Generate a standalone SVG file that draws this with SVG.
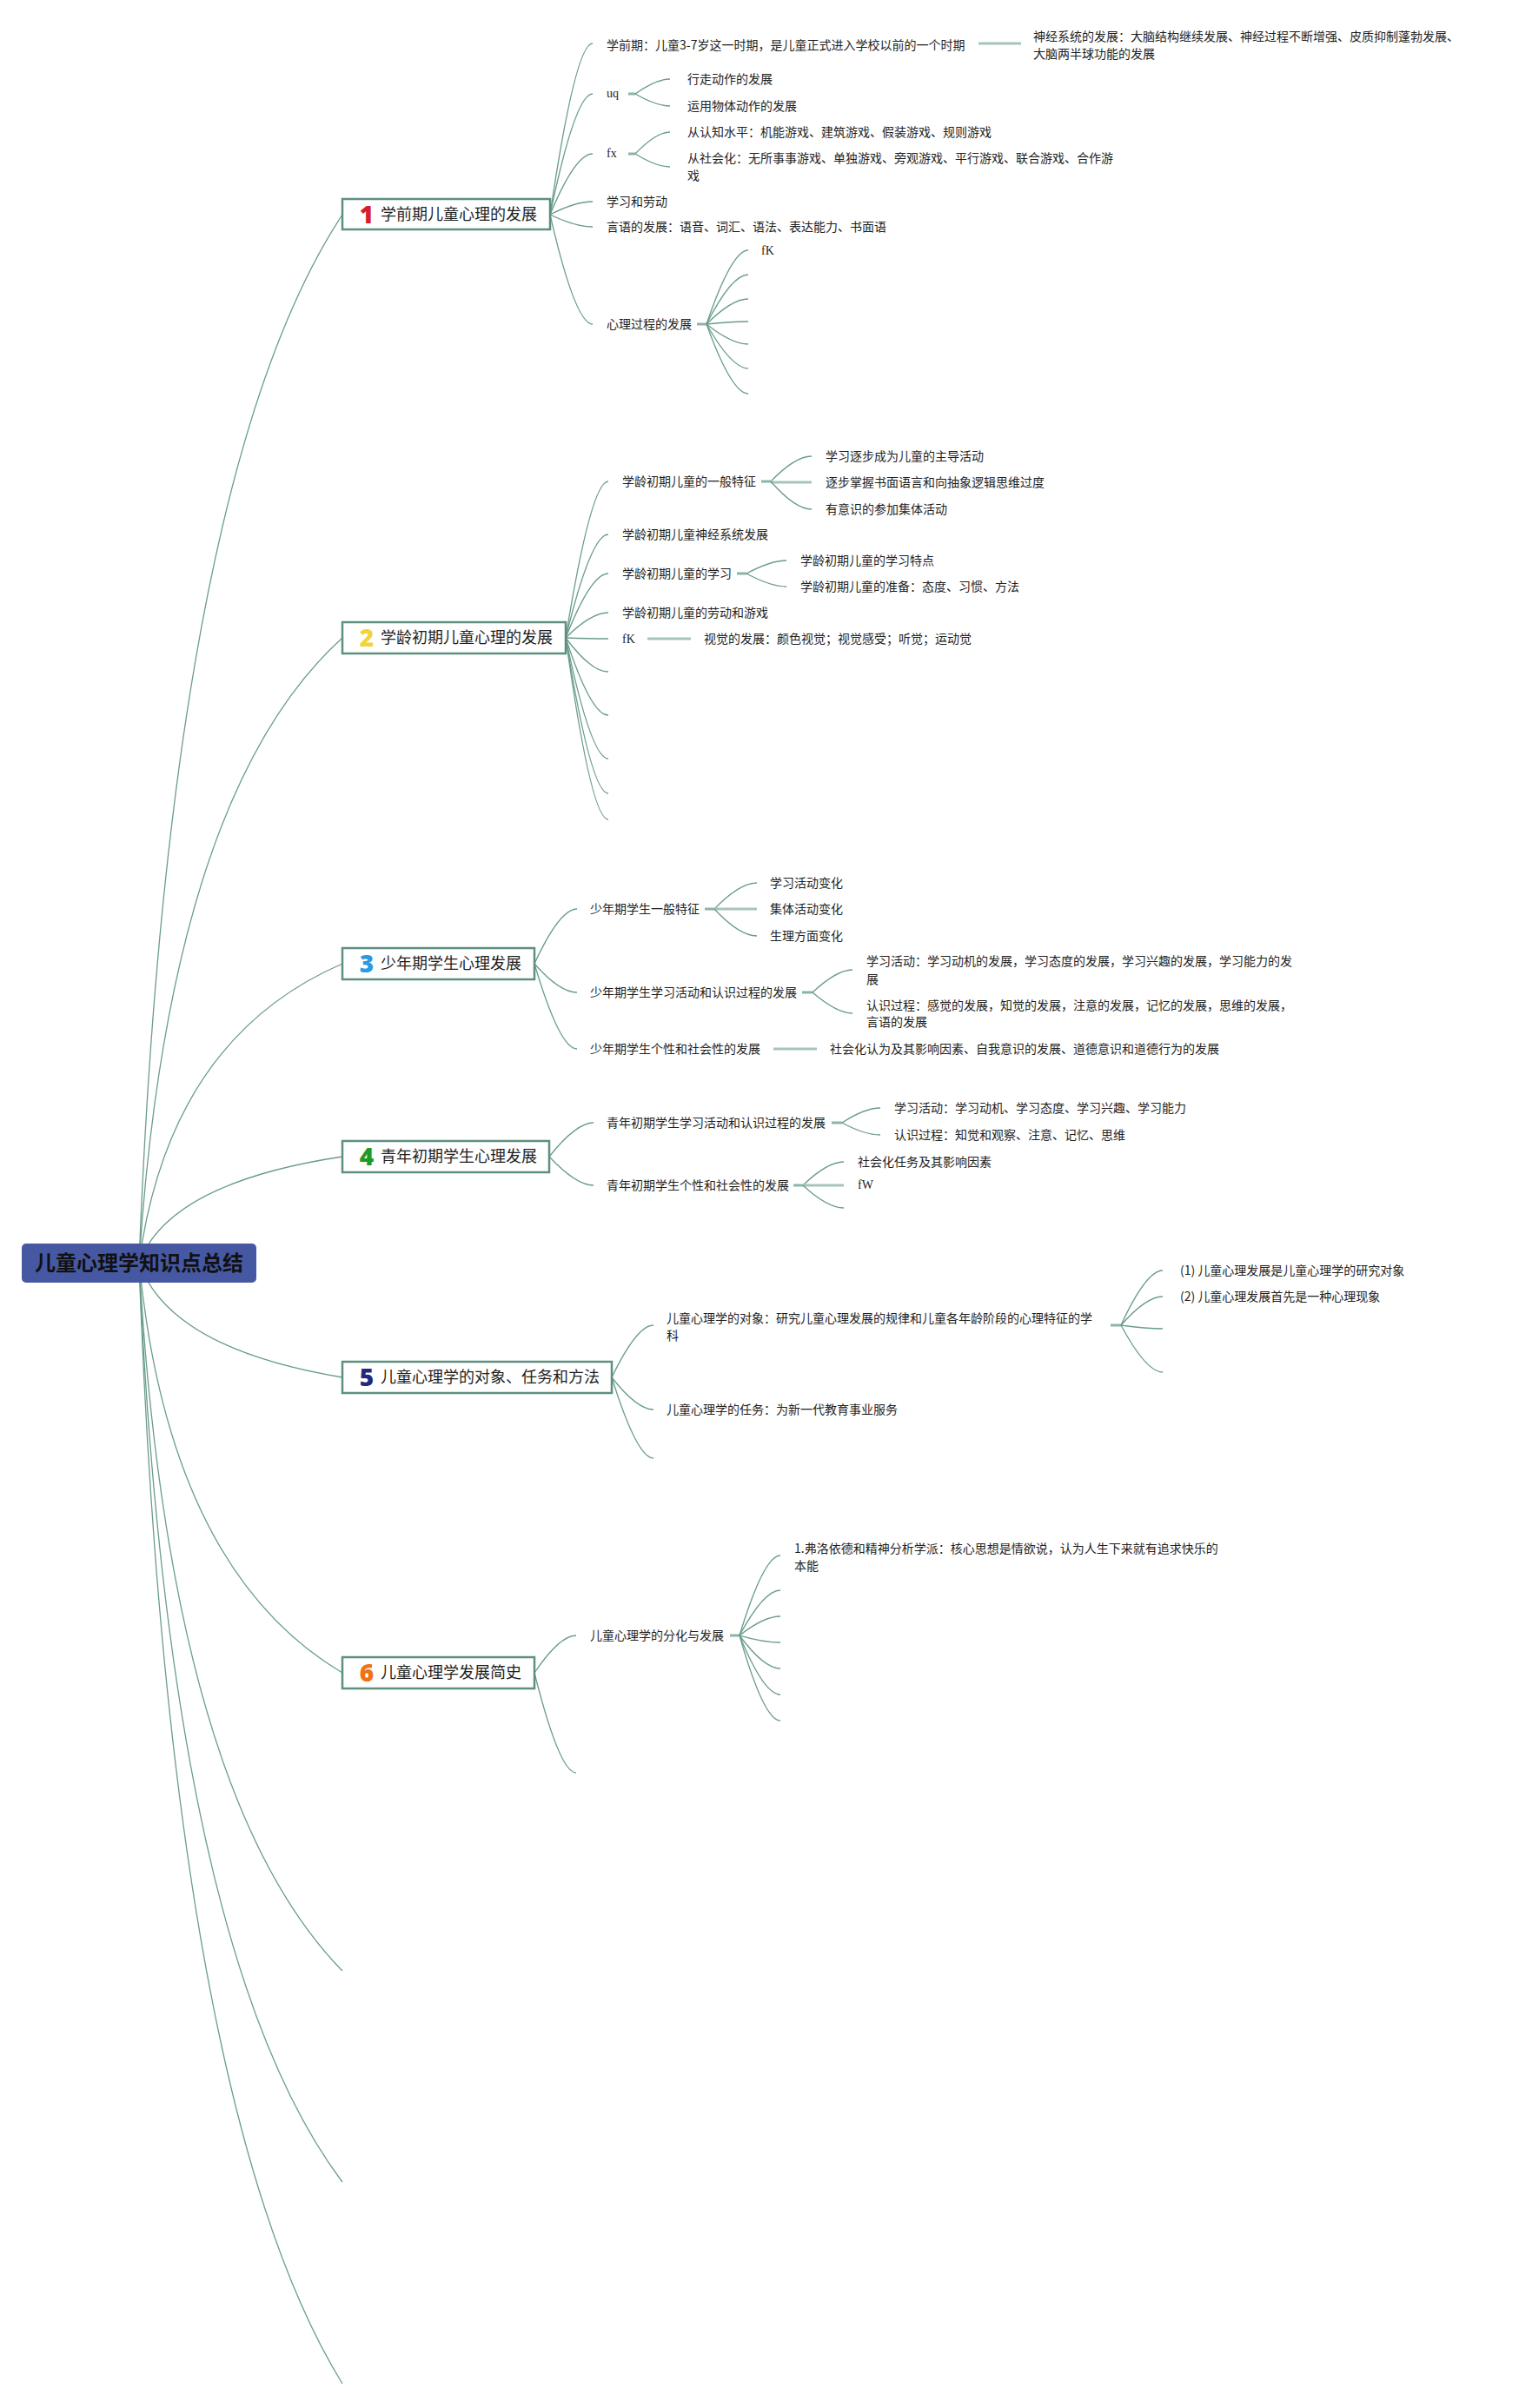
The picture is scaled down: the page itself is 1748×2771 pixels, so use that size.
<svg xmlns="http://www.w3.org/2000/svg" width="1748" height="2771" viewBox="0 0 1748 2771">
<style>
.c{fill:none;stroke:#6a9c8c;stroke-width:1.3}
.s{fill:none;stroke:#a6c5ba;stroke-width:3}
.j{stroke:#8db4a6;stroke-width:3}
.t{font-family:"Noto Sans CJK SC","Noto Sans",sans-serif;font-size:14px;fill:#1e1e1e}
.l{font-family:"Liberation Serif",serif;font-size:14px;fill:#1e1e1e}
.bx{fill:#fff;stroke:#5e8f80;stroke-width:2.5}
.bt{font-family:"Noto Sans CJK SC","Noto Sans",sans-serif;font-size:18px;fill:#1e1e1e}
.num{font-family:"Open Sans","Liberation Sans",sans-serif;font-weight:800;font-size:28px;text-anchor:middle}
.root{font-family:"Noto Sans CJK SC","Noto Sans",sans-serif;font-size:24px;font-weight:bold;fill:#111;text-anchor:middle}
</style>
<rect width="1748" height="2771" fill="#fff"/>
<g id="connectors">
<!-- root to main topics -->
<path class="c" d="M160,1453 Q195,549 394,247"/>
<path class="c" d="M160,1453 Q195,914 394,734"/>
<path class="c" d="M160,1453 Q195,1195 394,1109"/>
<path class="c" d="M160,1453 Q195,1361 394,1331"/>
<path class="c" d="M160,1453 Q195,1552 394,1585"/>
<path class="c" d="M160,1453 Q195,1807 394,1925"/>
<path class="c" d="M160,1453 Q195,2064 394,2268"/>
<path class="c" d="M160,1453 Q195,2246 394,2511"/>
<path class="c" d="M160,1453 Q195,2420 394,2743"/>
<!-- topic 1 -->
<path class="c" d="M633,247 Q662,50 682,50"/>
<path class="c" d="M633,247 Q662,108 682,108"/>
<path class="c" d="M633,247 Q662,177 682,177"/>
<path class="c" d="M633,247 Q662,232 682,232"/>
<path class="c" d="M633,247 Q662,261 682,261"/>
<path class="c" d="M633,247 Q662,373 682,373"/>
<line class="s" x1="1126" y1="50" x2="1175" y2="50"/>
<line class="j" x1="723" y1="108" x2="731" y2="108"/>
<path class="c" d="M731,108 Q755,91 771,91"/>
<path class="c" d="M731,108 Q755,122 771,122"/>
<line class="j" x1="723" y1="177" x2="731" y2="177"/>
<path class="c" d="M731,177 Q755,152 771,152"/>
<path class="c" d="M731,177 Q755,192 771,192"/>
<line class="j" x1="802" y1="373" x2="813" y2="373"/>
<path class="c" d="M813,373 Q842,288 861,288"/>
<path class="c" d="M813,373 Q842,316 861,316"/>
<path class="c" d="M813,373 Q842,344 861,344"/>
<path class="c" d="M813,373 Q842,370 861,370"/>
<path class="c" d="M813,373 Q842,396 861,396"/>
<path class="c" d="M813,373 Q842,424 861,424"/>
<path class="c" d="M813,373 Q842,453 861,453"/>
<!-- topic 2 -->
<path class="c" d="M651,734 Q680,554 700,554"/>
<path class="c" d="M651,734 Q680,615 700,615"/>
<path class="c" d="M651,734 Q680,660 700,660"/>
<path class="c" d="M651,734 Q680,705 700,705"/>
<path class="c" d="M651,734 Q680,735 700,735"/>
<path class="c" d="M651,734 Q680,773 700,773"/>
<path class="c" d="M651,734 Q680,823 700,823"/>
<path class="c" d="M651,734 Q680,873 700,873"/>
<path class="c" d="M651,734 Q680,913 700,913"/>
<path class="c" d="M651,734 Q680,943 700,943"/>
<line class="j" x1="876" y1="554" x2="887" y2="554"/>
<path class="c" d="M887,554 Q915,525 934,525"/>
<line class="s" x1="887" y1="555" x2="934" y2="555"/>
<path class="c" d="M887,554 Q915,586 934,586"/>
<line class="j" x1="848" y1="660" x2="859" y2="660"/>
<path class="c" d="M859,660 Q887,645 905,645"/>
<path class="c" d="M859,660 Q887,675 905,675"/>
<line class="s" x1="745" y1="735" x2="795" y2="735"/>
<!-- topic 3 -->
<path class="c" d="M615,1109 Q644,1046 664,1046"/>
<path class="c" d="M615,1109 Q644,1142 664,1142"/>
<path class="c" d="M615,1109 Q644,1207 664,1207"/>
<line class="j" x1="811" y1="1046" x2="822" y2="1046"/>
<path class="c" d="M822,1046 Q851,1016 871,1016"/>
<line class="s" x1="822" y1="1046" x2="871" y2="1046"/>
<path class="c" d="M822,1046 Q851,1077 871,1077"/>
<line class="j" x1="923" y1="1142" x2="935" y2="1142"/>
<path class="c" d="M935,1142 Q963,1116 981,1116"/>
<path class="c" d="M935,1142 Q963,1166 981,1166"/>
<line class="s" x1="890" y1="1207" x2="940" y2="1207"/>
<!-- topic 4 -->
<path class="c" d="M632,1331 Q663,1292 683,1292"/>
<path class="c" d="M632,1331 Q663,1364 683,1364"/>
<line class="j" x1="957" y1="1292" x2="969" y2="1292"/>
<path class="c" d="M969,1292 Q995,1275 1013,1275"/>
<path class="c" d="M969,1292 Q995,1306 1013,1306"/>
<line class="j" x1="913" y1="1364" x2="924" y2="1364"/>
<path class="c" d="M924,1364 Q952,1337 971,1337"/>
<line class="s" x1="924" y1="1364" x2="971" y2="1364"/>
<path class="c" d="M924,1364 Q952,1390 971,1390"/>
<!-- topic 5 -->
<path class="c" d="M704,1585 Q733,1525 752,1525"/>
<path class="c" d="M704,1585 Q733,1622 752,1622"/>
<path class="c" d="M704,1585 Q733,1678 752,1678"/>
<line class="j" x1="1278" y1="1525" x2="1290" y2="1525"/>
<path class="c" d="M1290,1525 Q1319,1462 1338,1462"/>
<path class="c" d="M1290,1525 Q1319,1492 1338,1492"/>
<path class="c" d="M1290,1525 Q1319,1529 1338,1529"/>
<path class="c" d="M1290,1525 Q1319,1579 1338,1579"/>
<!-- topic 6 -->
<path class="c" d="M615,1925 Q644,1882 663,1882"/>
<path class="c" d="M615,1925 Q644,2040 663,2040"/>
<line class="j" x1="840" y1="1882" x2="851" y2="1882"/>
<path class="c" d="M851,1882 Q879,1790 898,1790"/>
<path class="c" d="M851,1882 Q879,1830 898,1830"/>
<path class="c" d="M851,1882 Q879,1860 898,1860"/>
<path class="c" d="M851,1882 Q879,1890 898,1890"/>
<path class="c" d="M851,1882 Q879,1920 898,1920"/>
<path class="c" d="M851,1882 Q879,1950 898,1950"/>
<path class="c" d="M851,1882 Q879,1980 898,1980"/>
</g>

<g id="root">
<rect x="25" y="1431" width="270" height="45" rx="5" fill="#4758a3"/>
<text class="root" x="160" y="1462">儿童心理学知识点总结</text>
</g>

<g id="topic1">
<rect class="bx" x="394" y="229" width="239" height="35"/>
<text class="num" x="422" y="257" fill="#d81e2c">1</text>
<text class="bt" x="438" y="253">学前期儿童心理的发展</text>
</g>
<g id="t1-a"><text class="t" x="698" y="57">学前期：儿童3-7岁这一时期，是儿童正式进入学校以前的一个时期</text></g>
<g id="t1-a1"><text class="t" x="1189" y="47">神经系统的发展：大脑结构继续发展、神经过程不断增强、皮质抑制蓬勃发展、</text><text class="t" x="1189" y="67">大脑两半球功能的发展</text></g>
<g id="t1-b"><text class="l" x="698" y="112">uq</text></g>
<g id="t1-b1"><text class="t" x="791" y="96">行走动作的发展</text></g>
<g id="t1-b2"><text class="t" x="791" y="127">运用物体动作的发展</text></g>
<g id="t1-c"><text class="l" x="698" y="181">fx</text></g>
<g id="t1-c1"><text class="t" x="791" y="157">从认知水平：机能游戏、建筑游戏、假装游戏、规则游戏</text></g>
<g id="t1-c2"><text class="t" x="791" y="187">从社会化：无所事事游戏、单独游戏、旁观游戏、平行游戏、联合游戏、合作游</text><text class="t" x="791" y="207">戏</text></g>
<g id="t1-d"><text class="t" x="698" y="237">学习和劳动</text></g>
<g id="t1-e"><text class="t" x="698" y="266">言语的发展：语音、词汇、语法、表达能力、书面语</text></g>
<g id="t1-f"><text class="t" x="698" y="378">心理过程的发展</text></g>
<g id="t1-f1"><text class="l" x="876" y="293">fK</text></g>

<g id="topic2">
<rect class="bx" x="394" y="716" width="257" height="36"/>
<text class="num" x="422" y="744" fill="#f2d438">2</text>
<text class="bt" x="438" y="740">学龄初期儿童心理的发展</text>
</g>
<g id="t2-a"><text class="t" x="716" y="559">学龄初期儿童的一般特征</text></g>
<g id="t2-a1"><text class="t" x="950" y="530">学习逐步成为儿童的主导活动</text></g>
<g id="t2-a2"><text class="t" x="950" y="560">逐步掌握书面语言和向抽象逻辑思维过度</text></g>
<g id="t2-a3"><text class="t" x="950" y="591">有意识的参加集体活动</text></g>
<g id="t2-b"><text class="t" x="716" y="620">学龄初期儿童神经系统发展</text></g>
<g id="t2-c"><text class="t" x="716" y="665">学龄初期儿童的学习</text></g>
<g id="t2-c1"><text class="t" x="921" y="650">学龄初期儿童的学习特点</text></g>
<g id="t2-c2"><text class="t" x="921" y="680">学龄初期儿童的准备：态度、习惯、方法</text></g>
<g id="t2-d"><text class="t" x="716" y="710">学龄初期儿童的劳动和游戏</text></g>
<g id="t2-e"><text class="l" x="716" y="740">fK</text></g>
<g id="t2-e1"><text class="t" x="810" y="740">视觉的发展：颜色视觉；视觉感受；听觉；运动觉</text></g>

<g id="topic3">
<rect class="bx" x="394" y="1091" width="221" height="36"/>
<text class="num" x="422" y="1119" fill="#2a9be0">3</text>
<text class="bt" x="438" y="1115">少年期学生心理发展</text>
</g>
<g id="t3-a"><text class="t" x="679" y="1051">少年期学生一般特征</text></g>
<g id="t3-a1"><text class="t" x="886" y="1021">学习活动变化</text></g>
<g id="t3-a2"><text class="t" x="886" y="1051">集体活动变化</text></g>
<g id="t3-a3"><text class="t" x="886" y="1082">生理方面变化</text></g>
<g id="t3-b"><text class="t" x="679" y="1147">少年期学生学习活动和认识过程的发展</text></g>
<g id="t3-b1"><text class="t" x="997" y="1111">学习活动：学习动机的发展，学习态度的发展，学习兴趣的发展，学习能力的发</text><text class="t" x="997" y="1132">展</text></g>
<g id="t3-b2"><text class="t" x="997" y="1162">认识过程：感觉的发展，知觉的发展，注意的发展，记忆的发展，思维的发展，</text><text class="t" x="997" y="1181">言语的发展</text></g>
<g id="t3-c"><text class="t" x="679" y="1212">少年期学生个性和社会性的发展</text></g>
<g id="t3-c1"><text class="t" x="955" y="1212">社会化认为及其影响因素、自我意识的发展、道德意识和道德行为的发展</text></g>

<g id="topic4">
<rect class="bx" x="394" y="1313" width="238" height="36"/>
<text class="num" x="422" y="1341" fill="#1e9a2a">4</text>
<text class="bt" x="438" y="1337">青年初期学生心理发展</text>
</g>
<g id="t4-a"><text class="t" x="698" y="1297">青年初期学生学习活动和认识过程的发展</text></g>
<g id="t4-a1"><text class="t" x="1029" y="1280">学习活动：学习动机、学习态度、学习兴趣、学习能力</text></g>
<g id="t4-a2"><text class="t" x="1029" y="1311">认识过程：知觉和观察、注意、记忆、思维</text></g>
<g id="t4-b"><text class="t" x="698" y="1369">青年初期学生个性和社会性的发展</text></g>
<g id="t4-b1"><text class="t" x="987" y="1342">社会化任务及其影响因素</text></g>
<g id="t4-b2"><text class="l" x="987" y="1368">fW</text></g>

<g id="topic5">
<rect class="bx" x="394" y="1567" width="310" height="36"/>
<text class="num" x="422" y="1595" fill="#1f2a7c">5</text>
<text class="bt" x="438" y="1591">儿童心理学的对象、任务和方法</text>
</g>
<g id="t5-a"><text class="t" x="767" y="1522">儿童心理学的对象：研究儿童心理发展的规律和儿童各年龄阶段的心理特征的学</text><text class="t" x="767" y="1542">科</text></g>
<g id="t5-a1"><text class="t" x="1358" y="1467">(1) 儿童心理发展是儿童心理学的研究对象</text></g>
<g id="t5-a2"><text class="t" x="1358" y="1497">(2) 儿童心理发展首先是一种心理现象</text></g>
<g id="t5-b"><text class="t" x="767" y="1627">儿童心理学的任务：为新一代教育事业服务</text></g>

<g id="topic6">
<rect class="bx" x="394" y="1907" width="221" height="36"/>
<text class="num" x="422" y="1935" fill="#f07212">6</text>
<text class="bt" x="438" y="1931">儿童心理学发展简史</text>
</g>
<g id="t6-a"><text class="t" x="679" y="1887">儿童心理学的分化与发展</text></g>
<g id="t6-a1"><text class="t" x="914" y="1787">1.弗洛依德和精神分析学派：核心思想是情欲说，认为人生下来就有追求快乐的</text><text class="t" x="914" y="1807">本能</text></g>
</svg>
